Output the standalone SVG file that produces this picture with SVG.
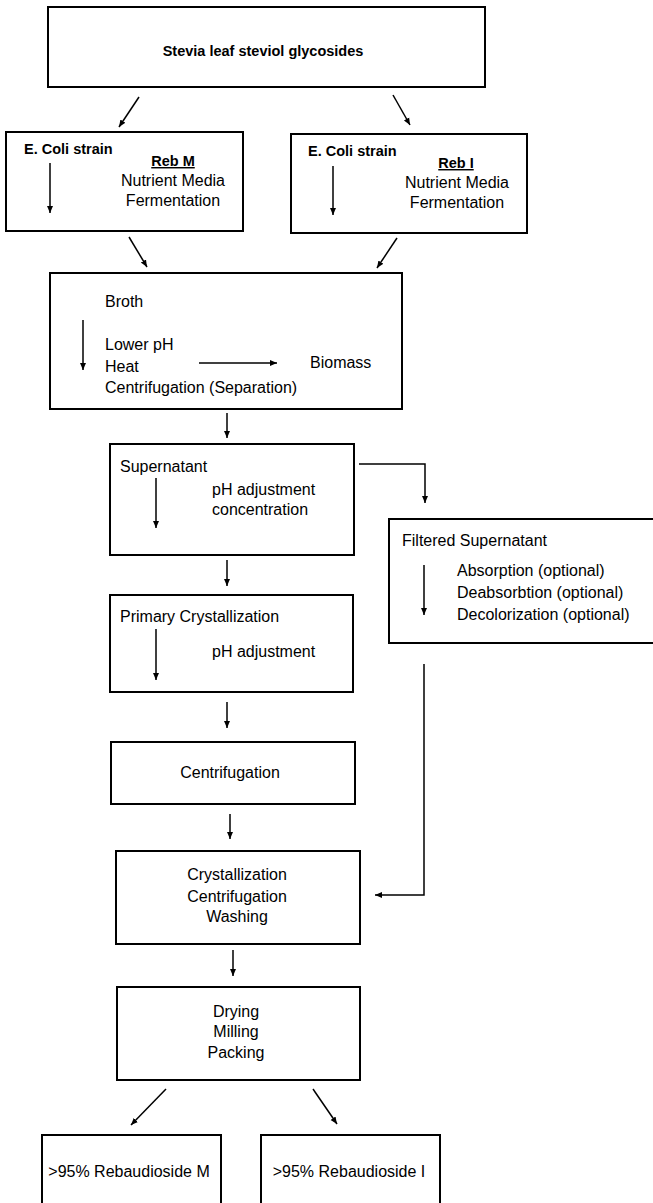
<svg xmlns="http://www.w3.org/2000/svg" width="653" height="1203" viewBox="0 0 653 1203">
<style>
.box{fill:#fff;stroke:#000;stroke-width:2}
.t{font-family:"Liberation Sans",Arial,sans-serif;font-size:16px;fill:#000}
.b{font-family:"Liberation Sans",Arial,sans-serif;font-size:14.5px;font-weight:bold;fill:#000}
.u{text-decoration:underline}
.m{text-anchor:middle}
.c{fill:none;stroke:#000;stroke-width:1.5}
</style>
<defs>
<marker id="ah" markerUnits="userSpaceOnUse" markerWidth="8" markerHeight="8" refX="7" refY="4" orient="auto">
<path d="M0,1 L7,4 L0,7 z" fill="#000"/>
</marker>
</defs>
<rect width="653" height="1203" fill="#fff"/>

<g id="n-source">
<rect class="box" x="48" y="7" width="437" height="80"/>
<text class="b m" x="263" y="56">Stevia leaf steviol glycosides</text>
</g>

<g id="n-rebm">
<rect class="box" x="6" y="132" width="237" height="99"/>
<text class="b" x="24" y="154">E. Coli strain</text>
<text class="b m u" x="173" y="166">Reb M</text>
<text class="t m" x="173" y="186">Nutrient Media</text>
<text class="t m" x="173" y="206">Fermentation</text>
<line class="c" x1="50" y1="163" x2="50" y2="213" marker-end="url(#ah)"/>
</g>

<g id="n-rebi">
<rect class="box" x="291" y="134" width="236" height="99"/>
<text class="b" x="308" y="156">E. Coli strain</text>
<text class="b m u" x="456" y="168">Reb I</text>
<text class="t m" x="457" y="188">Nutrient Media</text>
<text class="t m" x="457" y="208">Fermentation</text>
<line class="c" x1="333" y1="166" x2="333" y2="215" marker-end="url(#ah)"/>
</g>

<g id="n-broth">
<rect class="box" x="50" y="273" width="352" height="136"/>
<text class="t" x="105" y="307">Broth</text>
<text class="t" x="105" y="350">Lower pH</text>
<text class="t" x="105" y="372">Heat</text>
<text class="t" x="105" y="393">Centrifugation (Separation)</text>
<text class="t" x="310" y="368">Biomass</text>
<line class="c" x1="83" y1="320" x2="83" y2="370" marker-end="url(#ah)"/>
<line class="c" x1="199" y1="363" x2="277" y2="363" marker-end="url(#ah)"/>
</g>

<g id="n-supernatant">
<rect class="box" x="110" y="444" width="244" height="111"/>
<text class="t" x="120" y="472">Supernatant</text>
<text class="t" x="212" y="495">pH adjustment</text>
<text class="t" x="212" y="515">concentration</text>
<line class="c" x1="156" y1="478" x2="156" y2="528" marker-end="url(#ah)"/>
</g>

<g id="n-filtered">
<rect class="box" x="389" y="519" width="280" height="124"/>
<text class="t" x="402" y="546">Filtered Supernatant</text>
<text class="t" x="457" y="576">Absorption (optional)</text>
<text class="t" x="457" y="598">Deabsorbtion (optional)</text>
<text class="t" x="457" y="620">Decolorization (optional)</text>
<line class="c" x1="424" y1="565" x2="424" y2="615" marker-end="url(#ah)"/>
</g>

<g id="n-primary">
<rect class="box" x="110" y="595" width="243" height="97"/>
<text class="t" x="120" y="622">Primary Crystallization</text>
<text class="t" x="212" y="657">pH adjustment</text>
<line class="c" x1="156" y1="629" x2="156" y2="680" marker-end="url(#ah)"/>
</g>

<g id="n-centrifugation">
<rect class="box" x="111" y="742" width="244" height="62"/>
<text class="t m" x="230" y="778">Centrifugation</text>
</g>

<g id="n-crystallization">
<rect class="box" x="116" y="851" width="244" height="93"/>
<text class="t m" x="237" y="880">Crystallization</text>
<text class="t m" x="237" y="902">Centrifugation</text>
<text class="t m" x="237" y="922">Washing</text>
</g>

<g id="n-drying">
<rect class="box" x="117" y="987" width="243" height="93"/>
<text class="t m" x="236" y="1017">Drying</text>
<text class="t m" x="236" y="1037">Milling</text>
<text class="t m" x="236" y="1058">Packing</text>
</g>

<g id="n-outm">
<rect class="box" x="42" y="1135" width="179" height="90"/>
<text class="t m" x="129" y="1177">&gt;95% Rebaudioside M</text>
</g>

<g id="n-outi">
<rect class="box" x="261" y="1135" width="179" height="90"/>
<text class="t m" x="349" y="1177">&gt;95% Rebaudioside I</text>
</g>

<g id="connectors">
<line class="c" x1="139" y1="97" x2="119" y2="127" marker-end="url(#ah)"/>
<line class="c" x1="393" y1="95" x2="410" y2="125" marker-end="url(#ah)"/>
<line class="c" x1="129" y1="237" x2="147" y2="267" marker-end="url(#ah)"/>
<line class="c" x1="397" y1="238" x2="377" y2="268" marker-end="url(#ah)"/>
<line class="c" x1="227" y1="413" x2="227" y2="438" marker-end="url(#ah)"/>
<polyline class="c" points="359,464 425,464 425,503" marker-end="url(#ah)"/>
<line class="c" x1="227" y1="560" x2="227" y2="586" marker-end="url(#ah)"/>
<polyline class="c" points="424,664 424,895 375,895" marker-end="url(#ah)"/>
<line class="c" x1="227" y1="702" x2="227" y2="728" marker-end="url(#ah)"/>
<line class="c" x1="230" y1="814" x2="230" y2="839" marker-end="url(#ah)"/>
<line class="c" x1="233" y1="950" x2="233" y2="976" marker-end="url(#ah)"/>
<line class="c" x1="166" y1="1089" x2="131" y2="1125" marker-end="url(#ah)"/>
<line class="c" x1="313" y1="1089" x2="337" y2="1124" marker-end="url(#ah)"/>
</g>
</svg>
